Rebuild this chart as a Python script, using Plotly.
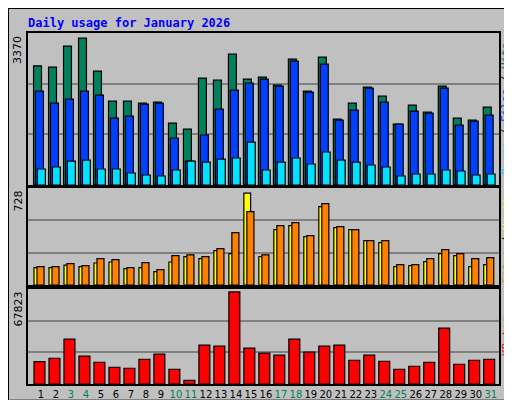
import plotly.graph_objects as go

days = list(range(1, 32))
weekend = [3, 4, 10, 11, 17, 18, 24, 25, 31]

hits = [2735, 2706, 3187, 3370, 2614, 1926, 1926, 1880, 1903, 1422, 1284, 2453, 2408, 3004, 2430, 2476,
        2293, 2889, 2155, 2935, 1513, 1880, 2247, 2041, 1399, 1834, 1674, 2270, 1536, 1490, 1788]
files = [2155, 1880, 1972, 2155, 2064, 1536, 1582, 1857, 1880, 1078, 550, 1147, 1743, 2178, 2339, 2431,
         2270, 2843, 2132, 2775, 1490, 1720, 2224, 1903, 1399, 1697, 1651, 2224, 1376, 1468, 1605]
pages = [367, 413, 550, 573, 367, 367, 275, 229, 206, 344, 550, 527, 596, 619, 986, 344,
         527, 619, 482, 757, 573, 527, 459, 413, 206, 252, 252, 344, 321, 229, 252]
sites = [137, 137, 158, 145, 174, 182, 129, 137, 106, 182, 224, 209, 272, 248, 728, 224,
         438, 470, 383, 620, 454, 438, 351, 335, 145, 153, 185, 248, 232, 145, 161]
visits = [145, 145, 169, 153, 209, 201, 137, 177, 121, 232, 238, 224, 288, 414, 581, 238,
          470, 494, 391, 644, 462, 438, 351, 351, 161, 161, 209, 280, 248, 209, 216]
kbytes = [16523, 18990, 33046, 20470, 16030, 12330, 11590, 18250, 21950, 10850, 2713, 28610, 27870, 67823,
          26390, 22690, 21210, 33046, 23430, 27870, 28610, 17510, 21210, 16770, 10850, 13070, 16030,
          41180, 14550, 17510, 18250]

mono = "DejaVu Sans Mono"
line = dict(color="black", width=1.2)

fig = go.Figure()

def bars(y, color, off, w, xa, ya):
    fig.add_trace(go.Bar(x=days, y=y, marker=dict(color=color, line=line), offset=off, width=w,
                         xaxis=xa, yaxis=ya, showlegend=False, hoverinfo="x+y"))

bars(hits, "#00805c", -0.5, 0.53, "x", "y")
bars(files, "#0040ff", -0.37, 0.53, "x", "y")
bars(pages, "#00e0ff", -0.24, 0.53, "x", "y")
bars(sites, "#ffff00", -0.47, 0.45, "x2", "y2")
bars(visits, "#ff8000", -0.27, 0.47, "x2", "y2")
bars(kbytes, "#ff0000", -0.47, 0.73, "x3", "y3")

xdom = [20 / 512, 491 / 512]
xr = [0.13, 31.55]
ticktext = [f"<span style='color:#00805c'>{d}</span>" if d in weekend else str(d) for d in days]

def yax(dom, top):
    return dict(domain=dom, range=[0, top], tickvals=[top / 3, 2 * top / 3], showticklabels=False,
                showgrid=True, gridcolor="#808080", gridwidth=1.5, zeroline=False,
                showline=True, linecolor="black", linewidth=1.5, mirror=True, ticks="")

def xax(anchor, labels=False):
    return dict(domain=xdom, range=xr, anchor=anchor, showline=True, linecolor="black", linewidth=1.5,
                mirror=True, showgrid=False, zeroline=False, tickvals=days, ticktext=ticktext,
                showticklabels=labels, ticks="", tickangle=0, automargin=False,
                tickfont=dict(family="DejaVu Sans", size=10, color="black"))

fig.update_layout(
    width=512, height=400, margin=dict(l=0, r=0, t=0, b=0),
    paper_bgcolor="#c0c0c0", plot_bgcolor="#c0c0c0", barmode="overlay",
    xaxis=xax("y"), xaxis2=xax("y2"), xaxis3=xax("y3", True),
    yaxis=yax([1 - 177 / 400, 1 - 25 / 400], 3370 * 1.035),
    yaxis2=yax([1 - 277 / 400, 1 - 180 / 400], 768),
    yaxis3=yax([1 - 376 / 400, 1 - 281 / 400], 70000),
)

# outer frame with bevel
fig.add_shape(type="rect", xref="paper", yref="paper", x0=503 / 512, x1=510 / 512, y0=2 / 400, y1=398 / 400,
              fillcolor="#808080", line_width=0, layer="below")
fig.add_shape(type="rect", xref="paper", yref="paper", x0=2 / 512, x1=510 / 512, y0=2 / 400, y1=9 / 400,
              fillcolor="#808080", line_width=0, layer="below")
fig.add_shape(type="rect", xref="paper", yref="paper", x0=0, x1=1, y0=0, y1=1,
              line=dict(color="black", width=2), layer="below")

fig.add_annotation(x=18 / 512, y=1 - 15 / 400, xref="paper", yref="paper", xanchor="left", yanchor="middle",
                   text="<b>Daily usage for January 2026</b>", showarrow=False,
                   font=dict(family=mono, size=12, color="#0000ff"))

for ytop, label in [(26, "3370"), (181, "728"), (282, "67823")]:
    fig.add_annotation(x=10 / 512, y=1 - ytop / 400, xref="paper", yref="paper", xanchor="center",
                       yanchor="top", text=label, textangle=-90, showarrow=False,
                       font=dict(family="DejaVu Sans", size=11, color="black"))

sep = "<span style='color:black'> / </span>"
for ymid, txt in [
    (101, f"<span style='color:#00e0ff'>Pages</span>{sep}<span style='color:#0040ff'>Files</span>{sep}<span style='color:#00805c'>Hits</span>"),
    (229, f"<span style='color:#ff8000'>Sites</span>{sep}<span style='color:#ffff00'>Visits</span>"),
    (328, "<span style='color:#ff0000'>KBytes</span>"),
]:
    fig.add_annotation(x=498 / 512, y=1 - ymid / 400, xref="paper", yref="paper", xanchor="center",
                       yanchor="middle", text=txt, textangle=-90, showarrow=False,
                       font=dict(family=mono, size=11))

fig.write_html("out.html")
